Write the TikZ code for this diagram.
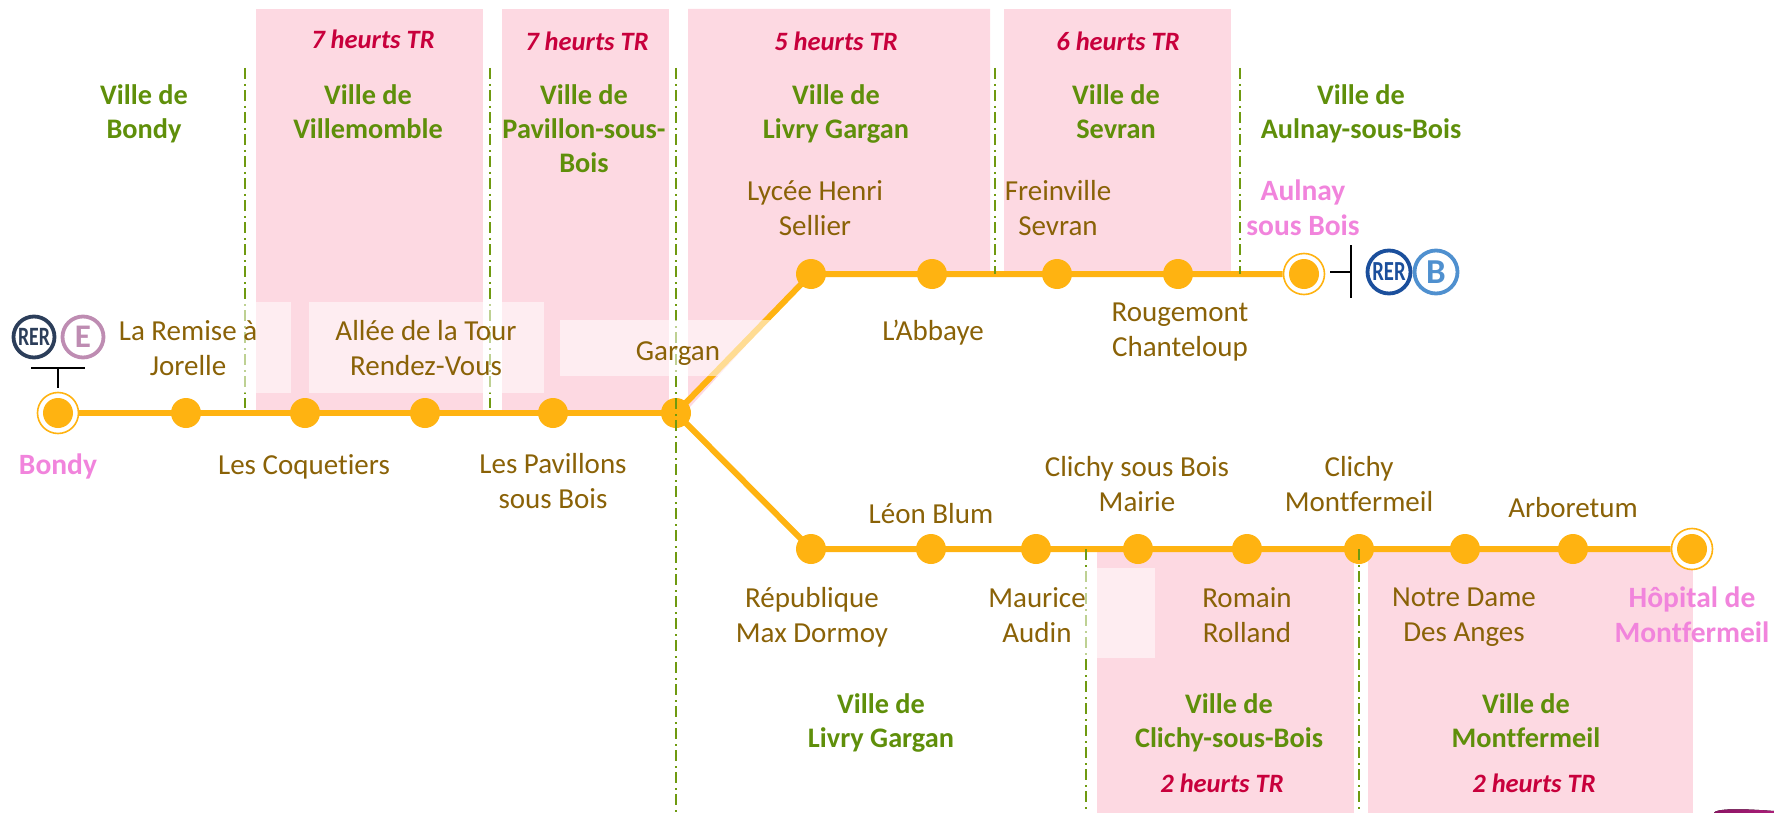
\documentclass[tikz,border=0pt]{standalone}
\usepackage{graphicx}
\usepackage{fontspec}
\setmainfont{Carlito}[Ligatures=NoCommon]
\definecolor{pinkzone}{HTML}{FDD9E2}
\definecolor{lineor}{HTML}{FFB311}
\definecolor{brownt}{HTML}{8A6207}
\definecolor{greent}{HTML}{5F8F0A}
\definecolor{redt}{HTML}{C8003C}
\definecolor{pinkt}{HTML}{F184DC}
\definecolor{dashg}{HTML}{6F9A10}
\definecolor{rerdark}{HTML}{2C3E5A}
\definecolor{linee}{HTML}{BE8CB2}
\definecolor{rerblue}{HTML}{1B4F9C}
\definecolor{lineb}{HTML}{4F90CF}
\definecolor{swa}{HTML}{8C1464}
\definecolor{swb}{HTML}{AA1E78}
\pgfdeclarelayer{back}
\pgfsetlayers{back,main}
\tikzset{
 zone/.style={fill=pinkzone,draw=none},
 veil/.style={fill=white,fill opacity=.55,draw=none},
 metro/.style={draw=lineor,line width=6pt},
 limit/.style={draw=dashg,line width=1.8pt,dash pattern=on 11pt off 5pt on 2pt off 4pt},
 stop/.style={circle,fill=lineor,draw=none,minimum size=30pt,inner sep=0pt},
 ring/.style={circle,fill=white,draw=lineor,line width=1.6pt,minimum size=41pt,inner sep=0pt},
 lab/.style={align=center,inner sep=0pt,yshift=-4pt,execute at begin node=\strut,execute at end node=\strut},
 stn/.style={lab,text=brownt,font=\fontsize{29}{34.5}\selectfont},
 ville/.style={lab,text=greent,font=\fontsize{28.3}{34}\selectfont\bfseries},
 tr/.style={lab,text=redt,font=\fontsize{26.5}{30}\selectfont\bfseries\itshape},
 endst/.style={lab,text=pinkt,font=\fontsize{29.5}{34.5}\selectfont\bfseries},
 badge/.style={circle,draw=#1,text=#1,line width=3.8pt,fill=white,minimum size=41pt,inner sep=0pt},
 tick/.style={draw=black,line width=1.6pt},
}
\begin{document}
\begin{tikzpicture}[x=1pt,y=-1pt]
\useasboundingbox (0,0) rectangle (1774,813);
% stations
\node[ring] (bondyR) at (58,413) {};
\node[stop] (bondy) at (58,413) {};
\node[stop] (s1) at (186,413) {};
\node[stop] (s2) at (305,413) {};
\node[stop] (s3) at (425,413) {};
\node[stop] (s4) at (553,413) {};
\node[stop] (garg) at (676,413) {};
\node[stop] (u1) at (811,274) {};
\node[stop] (u2) at (932,274) {};
\node[stop] (u3) at (1057,274) {};
\node[stop] (u4) at (1178,274) {};
\node[ring] (aulnR) at (1304,274) {};
\node[stop] (aul) at (1304,274) {};
\node[stop] (d1) at (811,549) {};
\node[stop] (d2) at (931,549) {};
\node[stop] (d3) at (1036,549) {};
\node[stop] (d4) at (1138,549) {};
\node[stop] (d5) at (1247,549) {};
\node[stop] (d6) at (1359,549) {};
\node[stop] (d7) at (1465,549) {};
\node[stop] (d8) at (1573,549) {};
\node[ring] (hopR) at (1692,549) {};
\node[stop] (hop) at (1692,549) {};
\begin{pgfonlayer}{back}
\fill[zone] (256,9) rectangle (483,413);
\fill[zone] (502,9) rectangle (669,413);
\fill[zone] (688,9) -- (990,9) -- (990,274) -- (811,274) -- (690,407) -- (688,407) -- cycle;
\fill[zone] (1004,9) rectangle (1231,274);
\fill[zone] (1097,549) rectangle (1354,813);
\fill[zone] (1368,549) rectangle (1693,813);
\draw[metro] (bondyR) -- (s1.center) -- (s2.center) -- (s3.center) -- (s4.center) -- (garg.center);
\draw[metro] (garg.center) -- (u1.center) -- (u2.center) -- (u3.center) -- (u4.center) -- (aulnR);
\draw[metro] (garg.center) -- (d1.center) -- (d2.center) -- (d3.center) -- (d4.center) -- (d5.center) -- (d6.center) -- (d7.center) -- (d8.center) -- (hopR);
\end{pgfonlayer}
% municipal limits
\draw[limit] (245,68) -- (245,408);
\draw[limit] (490,68) -- (490,408);
\draw[limit] (676,68) -- (676,813);
\draw[limit] (995,68) -- (995,274);
\draw[limit] (1240,68) -- (1240,274);
\draw[limit] (1086,549) -- (1086,813);
\draw[limit] (1359,549) -- (1359,813);
% white veils
\fill[veil] (232,302) rectangle (291,393);
\fill[veil] (309,302) rectangle (544,393);
\fill[veil] (560,320) rectangle (775,376);
\fill[veil] (1070,568) rectangle (1155,658);
% top labels
\node[tr] (t1) at (373,39) {7 heurts TR};
\node[tr] (t2) at (587,41) {7 heurts TR};
\node[tr] (t3) at (836,41) {5 heurts TR};
\node[tr] (t4) at (1118,41) {6 heurts TR};
\node[ville] (v1) at (144,113) {Ville de\\Bondy};
\node[ville] (v2) at (368,113) {Ville de\\Villemomble};
\node[ville] (v3) at (584,130) {Ville de\\Pavillon-sous-\\Bois};
\node[ville] (v4) at (836,113) {Ville de\\Livry Gargan};
\node[ville] (v5) at (1116,113) {Ville de\\Sevran};
\node[ville] (v6) at (1361,113) {Ville de\\Aulnay-sous-Bois};
\node[stn] (l1) at (815,209) {Lycée Henri\\Sellier};
\node[stn] (l2) at (1058,209) {Freinville\\Sevran};
\node[endst] (l3) at (1303,209) {Aulnay\\sous Bois};
\node[stn] (l4) at (933,330) {L’Abbaye};
\node[stn] (l5) at (1180,331) {Rougemont\\Chanteloup};
\node[stn] (l6) at (188,349) {La Remise à\\Jorelle};
\node[stn] (l7) at (426,349) {Allée de la Tour\\Rendez-Vous};
\node[stn] (l8) at (678,350) {Gargan};
\node[endst] (l9) at (58,464) {Bondy};
\node[stn] (l10) at (304,464) {Les Coquetiers};
\node[stn] (l11) at (553,482) {Les Pavillons\\sous Bois};
\node[stn] (l12) at (812,616) {République\\Max Dormoy};
\node[stn] (l13) at (931,513) {Léon Blum};
\node[stn] (l14) at (1037,616) {Maurice\\Audin};
\node[stn] (l15) at (1137,485) {Clichy sous Bois\\Mairie};
\node[stn] (l16) at (1247,616) {Romain\\Rolland};
\node[stn] (l17) at (1359,485) {Clichy\\Montfermeil};
\node[stn] (l18) at (1464,616) {Notre Dame\\Des Anges};
\node[stn] (l19) at (1573,507) {Arboretum};
\node[endst] (l20) at (1692,616) {Hôpital de\\Montfermeil};
\node[ville] (v7) at (881,722) {Ville de\\Livry Gargan};
\node[ville] (v8) at (1229,722) {Ville de\\Clichy-sous-Bois};
\node[ville] (v9) at (1526,722) {Ville de\\Montfermeil};
\node[tr] (t5) at (1222,782) {2 heurts TR};
\node[tr] (t6) at (1534,782) {2 heurts TR};
% RER badges
\node[badge=rerdark,font=\fontsize{23}{23}\selectfont\bfseries] (rerE) at (34,337) {\scalebox{.86}[1.15]{RER}};
\node[badge=linee,font=\fontsize{33}{33}\selectfont\bfseries] (lineE) at (83,337) {E};
\coordinate (tE) at (58,368);
\coordinate (tEa) at (31,368);
\coordinate (tEb) at (85,368);
\coordinate (tEc) at (58,388);
\draw[tick] (tEa) -- (tEb);
\draw[tick] (tE) -- (tEc);
\node[badge=rerblue,minimum size=43pt,font=\fontsize{24}{24}\selectfont\bfseries] (rerB) at (1389,272) {\scalebox{.86}[1.15]{RER}};
\node[badge=lineb,minimum size=43pt,font=\fontsize{35}{35}\selectfont\bfseries] (lineB) at (1436,272) {B};
\coordinate (tB) at (1351,272);
\coordinate (tBa) at (1351,245);
\coordinate (tBb) at (1351,298);
\coordinate (tBc) at (1330,272);
\draw[tick] (tBa) -- (tBb);
\draw[tick] (tB) -- (tBc);
% swoosh
\fill[left color=swa,right color=swb] (1714,813) .. controls (1715,809) and (1735,808) .. (1774,811) -- (1774,813) -- cycle;
\end{tikzpicture}
\end{document}
